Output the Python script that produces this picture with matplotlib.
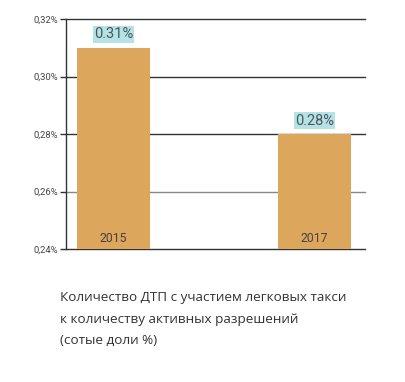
import matplotlib
matplotlib.use("Agg")
import matplotlib.pyplot as plt

years = ["2015", "2017"]
values = [0.31, 0.28]
value_labels = ["0.31%", "0.28%"]
y_ticks = [0.24, 0.26, 0.28, 0.30, 0.32]
y_tick_labels = ["0,24%", "0,26%", "0,28%", "0,30%", "0,32%"]
caption = ("Количество ДТП с участием легковых такси\n"
           "к количеству активных разрешений\n"
           "(сотые доли %)")

plt.rcParams["font.family"] = ["Roboto", "DejaVu Sans"]

fig = plt.figure(figsize=(4.05, 3.82), dpi=100)
ax = fig.add_axes([0.163, 0.348, 0.738, 0.602])

x = list(range(len(years)))
bars = ax.bar(x, [v - 0.24 for v in values], bottom=0.24, width=0.36,
              color="#dda65d", zorder=3)

ax.set_xlim(-0.235, 1.25)
ax.set_ylim(0.24, 0.32)
ax.set_yticks(y_ticks)
ax.set_yticklabels(y_tick_labels, fontsize=6.8, color="#444444")
ax.set_xticks([])
ax.tick_params(axis="y", length=4, width=1, color="#333333", pad=2)

for t in y_ticks:
    c = "#888888" if t == 0.26 else "#333333"
    ax.axhline(t, color=c, linewidth=1, zorder=1, clip_on=False)

for side in ["top", "right", "bottom"]:
    ax.spines[side].set_visible(False)
ax.spines["left"].set_color("#333333")
ax.spines["left"].set_linewidth(1)

for xi, v, lab, yr in zip(x, values, value_labels, years):
    ax.text(xi, v + 0.0047, lab, ha="center", va="center", fontsize=10.5,
            color="#4a5560",
            bbox=dict(boxstyle="square,pad=0.08", fc="#b5e3e3", ec="none"),
            zorder=4)
    ax.text(xi, 0.2438, yr, ha="center", va="center", fontsize=8.8,
            color="#4a4040", zorder=4)

fig.text(0.148, 0.238, caption, ha="left", va="top", fontsize=9.7,
         color="#333333", linespacing=1.85,
         family=["Open Sans", "DejaVu Sans"])

fig.savefig("out.png", dpi=100)
